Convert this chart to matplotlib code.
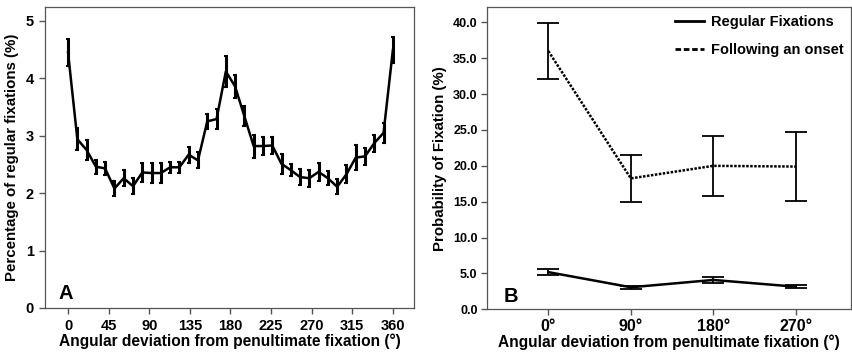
import matplotlib
matplotlib.use("Agg")
import matplotlib.pyplot as plt
from matplotlib.lines import Line2D

plt.rcParams['font.family'] = ['Liberation Sans', 'DejaVu Sans']
plt.rcParams['font.weight'] = 'bold'

# ---- Panel A data ----
angles_a = [0, 10.3, 20.6, 30.9, 41.1, 51.4, 61.7, 72.0, 82.3, 92.6, 102.9, 113.1,
            123.4, 133.7, 144.0, 154.3, 164.6, 174.9, 185.1, 195.4, 205.7, 216.0,
            226.3, 236.6, 246.9, 257.1, 267.4, 277.7, 288.0, 298.3, 308.6, 318.9,
            329.1, 339.4, 349.7, 360.0]
pct_a = [4.45, 2.94, 2.75, 2.46, 2.43, 2.08, 2.26, 2.12, 2.36, 2.35, 2.35, 2.45,
         2.45, 2.67, 2.57, 3.25, 3.29, 4.12, 3.86, 3.34, 2.82, 2.82, 2.83, 2.51,
         2.40, 2.28, 2.26, 2.37, 2.26, 2.11, 2.33, 2.62, 2.64, 2.87, 3.05, 4.49]
err_a = [0.23, 0.19, 0.18, 0.12, 0.12, 0.13, 0.14, 0.14, 0.16, 0.17, 0.17, 0.10,
         0.10, 0.14, 0.14, 0.13, 0.17, 0.27, 0.20, 0.17, 0.20, 0.15, 0.15, 0.17,
         0.10, 0.14, 0.15, 0.16, 0.12, 0.13, 0.16, 0.21, 0.15, 0.15, 0.17, 0.23]
xticks_a = [0, 45, 90, 135, 180, 225, 270, 315, 360]

# ---- Panel B data ----
cats_b = ['0°', '90°', '180°', '270°']
regular = [5.18, 3.07, 4.09, 3.15]
regular_err = [0.40, 0.20, 0.37, 0.20]
onset = [36.0, 18.25, 20.0, 19.9]
onset_err = [3.9, 3.25, 4.2, 4.75]

fig = plt.figure(figsize=(8.53, 3.54), dpi=100)

spine_col = '#555555'
xlab = 'Angular deviation from penultimate fixation (°)'

# ---- Panel A ----
ax1 = fig.add_axes([0.0528, 0.130, 0.4325, 0.850])
ax1.errorbar(angles_a, pct_a, yerr=err_a, color='black', lw=1.8,
             elinewidth=2.2, capsize=1.2, capthick=1.5)
ax1.set_xlim(-25.5, 383.4)
ax1.set_ylim(0, 5.24)
ax1.set_xticks(xticks_a)
ax1.set_xticklabels([str(t) for t in xticks_a])
ax1.set_yticks([0, 1, 2, 3, 4, 5])
for s in ax1.spines.values():
    s.set_color(spine_col)
    s.set_linewidth(0.9)
ax1.tick_params(axis='both', direction='out', length=4, width=1, color=spine_col,
                labelsize=10.5, pad=4)
ax1.set_xlabel(xlab, fontsize=11.2, fontweight='bold', labelpad=0)
ax1.set_ylabel('Percentage of regular fixations (%)', fontsize=10.8,
               fontweight='bold', labelpad=5)
ax1.text(0.036, 0.018, 'A', transform=ax1.transAxes, fontsize=14.5,
         fontweight='bold', ha='left', va='bottom')

# ---- Panel B ----
ax2 = fig.add_axes([0.5713, 0.1263, 0.4264, 0.853])
xb = list(range(len(cats_b)))
ax2.errorbar(xb, regular, yerr=regular_err, color='black', lw=1.8,
             elinewidth=1.3, capsize=8, capthick=1.3)
ax2.errorbar(xb, onset, yerr=onset_err, color='black', lw=1.8, ls=(0, (1, 0.6)),
             elinewidth=1.3, capsize=8, capthick=1.3)
ax2.set_xlim(-0.74, 3.67)
ax2.set_ylim(0, 42.1)
ax2.set_xticks(xb)
ax2.set_xticklabels(cats_b, fontsize=11.5)
ax2.set_yticks([0, 5, 10, 15, 20, 25, 30, 35, 40])
ax2.set_yticklabels(['%.1f' % v for v in [0, 5, 10, 15, 20, 25, 30, 35, 40]],
                    fontsize=9)
for s in ax2.spines.values():
    s.set_color(spine_col)
    s.set_linewidth(0.9)
ax2.tick_params(axis='both', direction='out', length=4, width=1, color=spine_col,
                pad=3)
ax2.set_xlabel(xlab, fontsize=11.2, fontweight='bold', labelpad=0)
ax2.set_ylabel('Probability of Fixation (%)', fontsize=10.8, fontweight='bold',
               labelpad=4)
ax2.text(0.044, 0.012, 'B', transform=ax2.transAxes, fontsize=14.5,
         fontweight='bold', ha='left', va='bottom')

handles = [Line2D([], [], color='black', lw=2, ls='-'),
           Line2D([], [], color='black', lw=2, ls=(0, (2, 1)))]
ax2.legend(handles, ['Regular Fixations', 'Following an onset'],
           loc='upper right', frameon=False, handlelength=2.0,
           handletextpad=0.5, borderaxespad=0.1, borderpad=0.4,
           labelspacing=1.0,
           prop={'weight': 'bold', 'size': 10.5})

fig.savefig('out.png', dpi=100)
